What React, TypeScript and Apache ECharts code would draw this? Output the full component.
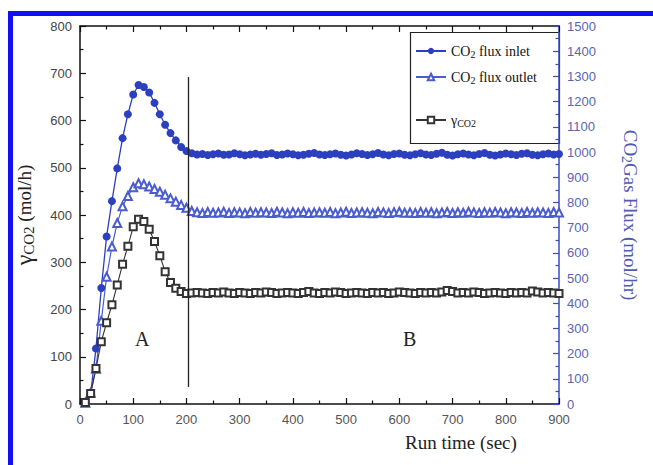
import React, { useEffect, useRef } from "react";
import * as echarts from "echarts";

// Run time (sec) of every sample
const times = [
  10, 20, 30, 40, 50, 60, 70, 80, 90, 100,
  110, 120, 130, 140, 150, 160, 170, 180, 190, 200,
  210, 220, 230, 240, 250, 260, 270, 280, 290, 300,
  310, 320, 330, 340, 350, 360, 370, 380, 390, 400,
  410, 420, 430, 440, 450, 460, 470, 480, 490, 500,
  510, 520, 530, 540, 550, 560, 570, 580, 590, 600,
  610, 620, 630, 640, 650, 660, 670, 680, 690, 700,
  710, 720, 730, 740, 750, 760, 770, 780, 790, 800,
  810, 820, 830, 840, 850, 860, 870, 880, 890, 900,
];

// CO2 flux inlet (mol/hr, right axis)
const inletFlux = [
  8, 40, 220, 460, 665, 805, 935, 1055, 1150, 1228,
  1266, 1258, 1236, 1195, 1150, 1108, 1075, 1046, 1020, 1004,
  995, 990, 992, 988, 991, 994, 989, 990, 995, 991,
  987, 990, 993, 989, 992, 995, 988, 990, 994, 991,
  987, 989, 993, 996, 990, 988, 991, 994, 989, 986,
  990, 995, 992, 988, 991, 996, 990, 987, 992, 994,
  989, 987, 991, 995, 990, 988, 993, 997, 989, 986,
  991, 994, 990, 987, 992, 996, 989, 986, 990, 994,
  991, 988, 993, 995, 989, 987, 991, 994, 990, 992,
];

// CO2 flux outlet (mol/hr, right axis)
const outletFlux = [
  5, 45, 140, 330, 505, 625, 718, 785, 825, 860,
  876, 872, 863, 853, 842, 830, 816, 803, 790, 779,
  766, 761, 758, 762, 759, 760, 763, 758, 761, 760,
  757, 762, 759, 761, 760, 758, 763, 760, 757, 761,
  759, 762, 758, 760, 761, 759, 762, 757, 760, 763,
  758, 760, 761, 759, 757, 762, 760, 758, 761, 763,
  759, 760, 758, 762, 759, 761, 757, 760, 762, 758,
  761, 759, 763, 760, 758, 761, 759, 762, 760, 757,
  761, 760, 758, 762, 759, 761, 760, 758, 762, 760,
];

// gamma CO2 (mol/h, left axis)
const gammaCO2 = [
  3, 22, 75, 132, 172, 210, 252, 296, 334, 375,
  391, 386, 370, 344, 314, 280, 257, 245, 238, 234,
  235, 236, 235, 234, 236, 235, 237, 235, 234, 236,
  235, 234, 236, 235, 237, 236, 234, 235, 236, 235,
  234, 236, 238, 235, 234, 236, 235, 237, 236, 234,
  235, 236, 235, 234, 236, 235, 236, 234, 235, 237,
  236, 235, 234, 236, 235, 236, 235, 237, 240, 238,
  235, 236, 235, 237, 236, 234, 235, 236, 235, 234,
  236, 235, 236, 235, 239, 237, 235, 236, 235, 234,
];

const xTicks = { min: 0, max: 900, step: 100 };
const leftTicks = { min: 0, max: 800, step: 100 };
const rightTicks = { min: 0, max: 1500, step: 100 };

// Divider between region A and region B (time, gamma range)
const dividerTime = 204;
const dividerRange = [36, 692];

const SERIF = "'Liberation Serif', 'DejaVu Serif', serif";
const SANS = "'Liberation Sans', Arial, sans-serif";
const BLUE_DARK = "#2c40bf";
const BLUE_LIGHT = "#4a5ccf";
const AXIS_BLUE = "#3d4db8";

const pairs = (vals: number[]) => vals.map((v, i) => [times[i], v]);

const subRich = {
  t: { fontFamily: SERIF, fontSize: 14, color: "#111", lineHeight: 16 },
  s: { fontFamily: SERIF, fontSize: 10, color: "#111", lineHeight: 10, padding: [8, 0, 0, 0], verticalAlign: "bottom" },
  g: { fontFamily: SERIF, fontSize: 14, color: "#111", lineHeight: 16 },
};

const legendFormatter = (name: string) => {
  if (name === "CO2 flux inlet") return "{t|CO}{s|2}{t| flux inlet}";
  if (name === "CO2 flux outlet") return "{t|CO}{s|2}{t| flux outlet}";
  return "{g|γ}{s|CO2}";
};

export default function App() {
  const ref = useRef<HTMLDivElement>(null);
  useEffect(() => {
    const chart = echarts.init(ref.current!, null, { renderer: "svg" });
    const tickCommon = (color: string) => ({
      axisTick: { show: true, inside: true, length: 6, lineStyle: { color, width: 1.2 } },
      minorTick: { show: true, splitNumber: 2, length: 3.5, lineStyle: { color, width: 1.2 } },
      splitLine: { show: false },
      minorSplitLine: { show: false },
    });
    const option: any = {
      animation: false,
      backgroundColor: "#fff",
      grid: { left: 80, right: 94, top: 26, bottom: 61, show: false },
      xAxis: [
        {
          type: "value",
          position: "bottom",
          min: xTicks.min,
          max: xTicks.max,
          interval: xTicks.step,
          axisLine: { show: true, onZero: false, lineStyle: { color: "#111", width: 1.5 } },
          axisLabel: { color: "#555", fontFamily: SANS, fontSize: 13, margin: 9, formatter: (v: number) => String(v) },
          ...tickCommon("#111"),
        },
        {
          type: "value",
          position: "top",
          min: xTicks.min,
          max: xTicks.max,
          interval: xTicks.step,
          axisLine: { show: true, onZero: false, lineStyle: { color: "#111", width: 1.5 } },
          axisLabel: { show: false },
          ...tickCommon("#111"),
        },
      ],
      yAxis: [
        {
          type: "value",
          position: "left",
          min: leftTicks.min,
          max: leftTicks.max,
          interval: leftTicks.step,
          axisLine: { show: true, onZero: false, lineStyle: { color: "#111", width: 1.5 } },
          axisLabel: { color: "#444", fontFamily: SANS, fontSize: 13, margin: 8, formatter: (v: number) => String(v) },
          name: "{g|γ}{s|CO2}{t| (mol/h)}",
          nameLocation: "middle",
          nameRotate: 90,
          nameGap: 44,
          nameTextStyle: {
            rich: {
              g: { fontFamily: SERIF, fontSize: 24, color: "#222", lineHeight: 24 },
              s: { fontFamily: SERIF, fontSize: 15, color: "#222", lineHeight: 15, padding: [10, 0, 0, 0], verticalAlign: "bottom" },
              t: { fontFamily: SERIF, fontSize: 19, color: "#222", lineHeight: 24 },
            },
          },
          ...tickCommon("#111"),
        },
        {
          type: "value",
          position: "right",
          min: rightTicks.min,
          max: rightTicks.max,
          interval: rightTicks.step,
          axisLine: { show: true, onZero: false, lineStyle: { color: AXIS_BLUE, width: 1.5 } },
          axisLabel: { color: "#5a64b4", fontFamily: SANS, fontSize: 13, margin: 8, formatter: (v: number) => String(v) },
          name: "{t|CO}{s|2}{t|Gas Flux (mol/hr)}",
          nameLocation: "middle",
          nameRotate: -90,
          nameGap: 60,
          nameTextStyle: {
            rich: {
              s: { fontFamily: SERIF, fontSize: 14, color: "#4f5ab4", lineHeight: 14, padding: [9, 0, 0, 0], verticalAlign: "bottom" },
              t: { fontFamily: SERIF, fontSize: 19, color: "#4f5ab4", lineHeight: 22 },
            },
          },
          ...tickCommon(AXIS_BLUE),
        },
      ],
      legend: [
        {
          data: ["CO2 flux inlet", "CO2 flux outlet"],
          orient: "vertical",
          left: 410,
          top: 36,
          itemGap: 8,
          itemWidth: 30,
          itemHeight: 8,
          formatter: legendFormatter,
          textStyle: { rich: subRich },
          selectedMode: false,
        },
        {
          data: ["γCO2"],
          orient: "vertical",
          left: 410,
          top: 105,
          itemWidth: 30,
          itemHeight: 8,
          formatter: legendFormatter,
          textStyle: { rich: subRich },
          selectedMode: false,
        },
      ],
      graphic: [
        { type: "rect", left: 8, top: 11, shape: { width: 5, height: 454 }, style: { fill: "#1010f0" }, silent: true },
        { type: "rect", left: 8, top: 11, shape: { width: 645, height: 5 }, style: { fill: "#1010f0" }, silent: true },
        {
          type: "rect",
          left: 408,
          top: 30,
          shape: { width: 149, height: 111 },
          style: { fill: "none", stroke: "#222", lineWidth: 1.2 },
          silent: true,
        },
        { type: "text", left: 135, top: 329, style: { text: "A", font: `20px ${SERIF}`, fill: "#222" } },
        { type: "text", left: 403, top: 329, style: { text: "B", font: `20px ${SERIF}`, fill: "#222" } },
        { type: "text", left: 405, top: 433, style: { text: "Run time (sec)", font: `19px ${SERIF}`, fill: "#222" } },
      ],
      series: [
        {
          name: "CO2 flux inlet",
          type: "line",
          yAxisIndex: 1,
          data: pairs(inletFlux),
          symbol: "circle",
          symbolSize: 8,
          lineStyle: { color: BLUE_DARK, width: 1.3 },
          itemStyle: { color: BLUE_DARK },
          z: 3,
        },
        {
          name: "CO2 flux outlet",
          type: "line",
          yAxisIndex: 1,
          data: pairs(outletFlux),
          symbol: "emptyTriangle",
          symbolSize: 8,
          lineStyle: { color: BLUE_LIGHT, width: 1.2 },
          itemStyle: { color: BLUE_LIGHT, borderWidth: 1 },
          z: 3,
        },
        {
          name: "γCO2",
          type: "line",
          yAxisIndex: 0,
          data: pairs(gammaCO2),
          symbol: "emptyRect",
          symbolSize: 7,
          lineStyle: { color: "#333", width: 1.1 },
          itemStyle: { color: "#333", borderWidth: 0.9 },
          z: 3,
          markLine: {
            silent: true,
            symbol: "none",
            label: { show: false },
            lineStyle: { color: "#222", width: 1.3, type: "solid" },
            data: [
              [
                { coord: [dividerTime, dividerRange[0]] },
                { coord: [dividerTime, dividerRange[1]] },
              ],
            ],
          },
        },
      ],
    };
    chart.setOption(option);
    return () => chart.dispose();
  }, []);
  return (
    <div
      ref={ref}
      style={{ position: "fixed", left: 0, top: 0, width: 653, height: 465, background: "#fff" }}
    />
  );
}
